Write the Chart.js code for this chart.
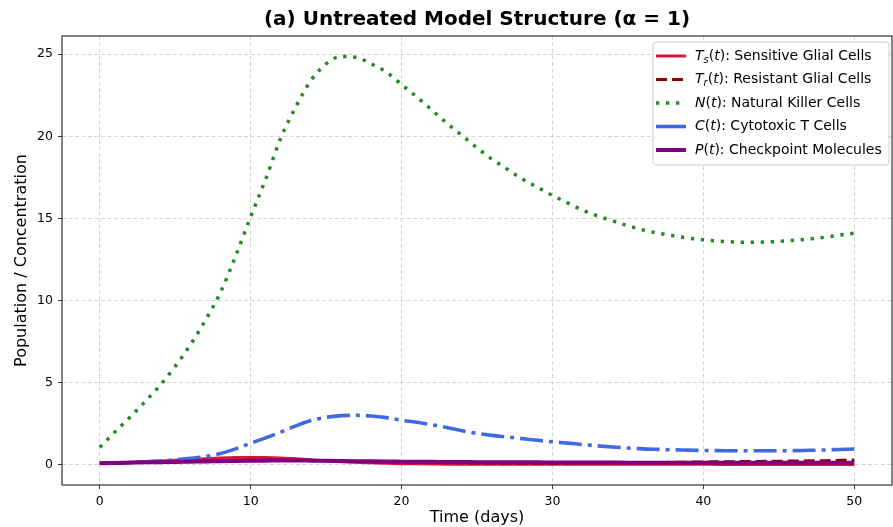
<!DOCTYPE html>
<html>
<head>
<meta charset="utf-8">
<script src="https://cdn.jsdelivr.net/npm/chart.js@4.4.0/dist/chart.umd.min.js"></script>
<style>
  html, body { margin: 0; padding: 0; background: #ffffff; }
  #wrap { width: 893px; height: 527px; position: relative; }
</style>
</head>
<body>
<div id="wrap"><canvas id="c" width="893" height="527"></canvas></div>
<script>
// ---- Data ----
const timeDays = [0,1,2,3,4,5,6,7,8,9,10,11,12,13,14,15,16,17,18,19,20,21,22,23,24,25,26,27,28,29,30,31,32,33,34,35,36,37,38,39,40,41,42,43,44,45,46,47,48,49,50];

const sensitiveGlial = [0.10,0.13,0.16,0.20,0.24,0.28,0.33,0.38,0.42,0.45,0.46,0.45,0.42,0.37,0.31,0.25,0.20,0.16,0.13,0.10,0.08,0.07,0.06,0.05,0.05,0.05,0.04,0.04,0.04,0.04,0.04,0.04,0.04,0.04,0.04,0.04,0.04,0.04,0.04,0.04,0.04,0.03,0.03,0.03,0.03,0.03,0.03,0.03,0.03,0.03,0.03];

const resistantGlial = [0.10,0.12,0.14,0.16,0.18,0.20,0.22,0.24,0.26,0.28,0.30,0.30,0.30,0.29,0.27,0.25,0.23,0.21,0.19,0.18,0.17,0.16,0.15,0.14,0.13,0.12,0.12,0.11,0.11,0.11,0.11,0.11,0.12,0.12,0.13,0.13,0.14,0.15,0.16,0.17,0.18,0.19,0.20,0.21,0.22,0.23,0.24,0.25,0.26,0.28,0.30];

const naturalKiller = [1.07,2.0,2.9,3.85,4.85,6.0,7.3,8.8,10.5,12.7,15.1,17.4,19.9,21.8,23.4,24.4,24.85,24.8,24.4,23.9,23.15,22.4,21.6,20.8,20.05,19.3,18.6,18.0,17.4,16.9,16.4,15.95,15.5,15.15,14.85,14.55,14.3,14.1,13.95,13.8,13.7,13.62,13.57,13.55,13.56,13.6,13.67,13.75,13.85,13.98,14.1];

const cytotoxicT = [0.10,0.12,0.15,0.19,0.24,0.31,0.40,0.51,0.70,0.98,1.32,1.65,2.0,2.38,2.7,2.9,3.0,3.02,2.98,2.88,2.72,2.6,2.45,2.28,2.08,1.92,1.8,1.7,1.6,1.5,1.41,1.33,1.24,1.16,1.09,1.03,0.98,0.95,0.92,0.90,0.88,0.87,0.86,0.86,0.86,0.86,0.87,0.89,0.91,0.94,0.97];

const checkpoint = [0.10,0.12,0.14,0.16,0.17,0.18,0.20,0.21,0.23,0.24,0.25,0.26,0.27,0.27,0.26,0.25,0.24,0.23,0.22,0.21,0.20,0.19,0.19,0.18,0.18,0.17,0.17,0.16,0.16,0.16,0.15,0.15,0.15,0.15,0.15,0.14,0.14,0.14,0.14,0.14,0.14,0.14,0.14,0.13,0.13,0.13,0.13,0.13,0.13,0.13,0.13];

const xTickValues = [0,10,20,30,40,50];
const yTickValues = [0,5,10,15,20,25];

const titleText = "(a) Untreated Model Structure (\u03b1 = 1)";
const xAxisTitle = "Time (days)";
const yAxisTitle = "Population / Concentration";

const legendEntries = [
  { parts: [{t:'T',i:1},{t:'s',i:1,sub:1},{t:'('},{t:'t',i:1},{t:'): Sensitive Glial Cells'}] },
  { parts: [{t:'T',i:1},{t:'r',i:1,sub:1},{t:'('},{t:'t',i:1},{t:'): Resistant Glial Cells'}] },
  { parts: [{t:'N',i:1},{t:'('},{t:'t',i:1},{t:'): Natural Killer Cells'}] },
  { parts: [{t:'C',i:1},{t:'('},{t:'t',i:1},{t:'): Cytotoxic T Cells'}] },
  { parts: [{t:'P',i:1},{t:'('},{t:'t',i:1},{t:'): Checkpoint Molecules'}] }
];

function pts(arr) { return timeDays.map((t, k) => ({ x: t, y: arr[k] })); }

const FONT = "'DejaVu Sans', sans-serif";

const styles = [
  { color: '#DC143C', width: 3,   dash: [] },
  { color: '#8B0000', width: 3,   dash: [11, 5] },
  { color: '#228B22', width: 3.5, dash: [3.3, 6.7] },
  { color: '#4169E1', width: 3.6, dash: [23, 6, 4, 6] },
  { color: '#800080', width: 4,   dash: [] }
];

const series = [sensitiveGlial, resistantGlial, naturalKiller, cytotoxicT, checkpoint];

const datasets = series.map((arr, k) => ({
  data: pts(arr),
  borderColor: styles[k].color,
  borderWidth: styles[k].width,
  borderDash: styles[k].dash,
  borderCapStyle: 'butt',
  pointRadius: 0,
  fill: false,
  cubicInterpolationMode: 'monotone',
  order: 5 - k
}));

const decor = {
  id: 'decor',
  afterDraw(chart) {
    const ctx = chart.ctx;
    const a = chart.chartArea;
    ctx.save();
    // frame
    ctx.strokeStyle = '#333333';
    ctx.lineWidth = 1.2;
    ctx.setLineDash([]);
    ctx.strokeRect(a.left, a.top, a.right - a.left, a.bottom - a.top);

    // title
    ctx.fillStyle = '#000000';
    ctx.font = "bold 20px " + FONT;
    ctx.textAlign = 'center';
    ctx.textBaseline = 'middle';
    ctx.fillText(titleText, (a.left + a.right) / 2, 20);

    // axis titles
    ctx.font = "16px " + FONT;
    ctx.fillText(xAxisTitle, (a.left + a.right) / 2, 518);
    ctx.save();
    ctx.translate(22, (a.top + a.bottom) / 2);
    ctx.rotate(-Math.PI / 2);
    ctx.fillText(yAxisTitle, 0, 0);
    ctx.restore();

    // legend
    const bx = 653, by = 42, bw = 236, bh = 123;
    ctx.beginPath();
    if (ctx.roundRect) ctx.roundRect(bx, by, bw, bh, 3); else ctx.rect(bx, by, bw, bh);
    ctx.fillStyle = 'rgba(255,255,255,0.85)';
    ctx.fill();
    ctx.strokeStyle = '#cccccc';
    ctx.lineWidth = 1;
    ctx.stroke();

    const rowY = [56, 79.5, 103, 126.5, 150];
    legendEntries.forEach((e, k) => {
      const y = rowY[k];
      const s = styles[k];
      ctx.save();
      ctx.strokeStyle = s.color;
      ctx.lineWidth = s.width;
      ctx.lineCap = 'butt';
      ctx.setLineDash(k === 3 ? [] : s.dash);
      ctx.beginPath();
      ctx.moveTo(656, y);
      ctx.lineTo(686, y);
      ctx.stroke();
      ctx.restore();

      let x = 695;
      ctx.fillStyle = '#000000';
      ctx.textAlign = 'left';
      ctx.textBaseline = 'middle';
      e.parts.forEach(p => {
        const size = p.sub ? 10 : 14;
        ctx.font = (p.i ? 'italic ' : '') + size + 'px ' + FONT;
        ctx.fillText(p.t, x, p.sub ? y + 4 : y);
        x += ctx.measureText(p.t).width;
      });
    });
    ctx.restore();
  }
};

new Chart(document.getElementById('c'), {
  type: 'line',
  data: { datasets },
  plugins: [decor],
  options: {
    responsive: false,
    animation: false,
    events: [],
    layout: { padding: { top: 36, right: 1, left: 0, bottom: 0 } },
    plugins: { legend: { display: false }, title: { display: false }, tooltip: { enabled: false } },
    scales: {
      x: {
        type: 'linear',
        min: -2.5,
        max: 52.5,
        afterBuildTicks: (s) => { s.ticks = xTickValues.map(v => ({ value: v })); },
        afterFit: (s) => { s.height = 42; },
        ticks: { color: '#000000', font: { family: FONT, size: 12.5 }, padding: 5, maxRotation: 0, autoSkip: false },
        grid: { color: '#cccccc', lineWidth: 0.8, tickLength: 4, tickColor: '#333333', tickWidth: 1, tickBorderDash: [] },
        border: { display: false, dash: [4, 2.5] }
      },
      y: {
        type: 'linear',
        min: -1.22,
        max: 26.1,
        afterBuildTicks: (s) => { s.ticks = yTickValues.map(v => ({ value: v })); },
        afterFit: (s) => { s.width = 62; },
        ticks: { color: '#000000', font: { family: FONT, size: 12.5 }, padding: 5 },
        grid: { color: '#cccccc', lineWidth: 0.8, tickLength: 4, tickColor: '#333333', tickWidth: 1, tickBorderDash: [] },
        border: { display: false, dash: [4, 2.5] }
      }
    }
  }
});
</script>
</body>
</html>
